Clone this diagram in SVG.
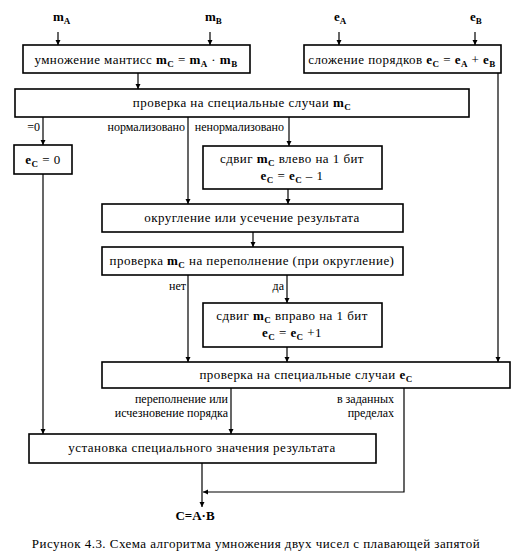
<svg xmlns="http://www.w3.org/2000/svg" width="512" height="556" viewBox="0 0 512 556">
<defs>
<marker id="ar" markerWidth="6" markerHeight="8" refX="5" refY="4" orient="auto" markerUnits="userSpaceOnUse">
<path d="M0,1.5 L5,4 L0,6.5 Z" fill="#000"/>
</marker>
</defs>
<style>
text{font-family:"Liberation Serif","Times New Roman",serif;fill:#000}
.t{font-size:13px;text-anchor:middle;letter-spacing:0.45px}
.l{font-size:12px;text-anchor:end}
.b{font-weight:bold}
.s{font-size:9px;font-weight:bold}
.n{fill:#fff;stroke:#000;stroke-width:1.6}
.c path{fill:none;stroke:#000;stroke-width:1.2}
</style>
<rect width="512" height="556" fill="#fff"/>
<g class="c" id="connectors">
<path d="M58,32 V45" marker-end="url(#ar)"/>
<path d="M210,32 V45" marker-end="url(#ar)"/>
<path d="M339,32 V45" marker-end="url(#ar)"/>
<path d="M475,32 V45" marker-end="url(#ar)"/>
<path d="M138,73 V89" marker-end="url(#ar)"/>
<path d="M498,73 V362" marker-end="url(#ar)"/>
<path d="M43,117 V145" marker-end="url(#ar)"/>
<path d="M188,117 V204" marker-end="url(#ar)"/>
<path d="M289,117 V146" marker-end="url(#ar)"/>
<path d="M288,189 V204" marker-end="url(#ar)"/>
<path d="M253,232 V247" marker-end="url(#ar)"/>
<path d="M188,275 V362" marker-end="url(#ar)"/>
<path d="M287,275 V303" marker-end="url(#ar)"/>
<path d="M287,347 V362" marker-end="url(#ar)"/>
<path d="M43,174 V434" marker-end="url(#ar)"/>
<path d="M231,388 V434" marker-end="url(#ar)"/>
<path d="M404,388 V492 H203" marker-end="url(#ar)"/>
<path d="M202,463 V507" marker-end="url(#ar)"/>
</g>
<g id="inputs">
<text x="53" y="21" class="b" font-size="13">m<tspan class="s" dy="3">A</tspan></text>
<text x="205" y="21" class="b" font-size="13">m<tspan class="s" dy="3">B</tspan></text>
<text x="334" y="21" class="b" font-size="13">e<tspan class="s" dy="3">A</tspan></text>
<text x="470" y="21" class="b" font-size="13">e<tspan class="s" dy="3">B</tspan></text>
</g>
<g id="mult">
<rect class="n" x="23" y="45" width="227" height="28"/>
<text x="136" y="64" class="t">умножение мантисс <tspan class="b">m</tspan><tspan class="s" dy="3">C</tspan><tspan dy="-3"> = </tspan><tspan class="b">m</tspan><tspan class="s" dy="3">A</tspan><tspan dy="-3"> · </tspan><tspan class="b">m</tspan><tspan class="s" dy="3">B</tspan></text>
</g>
<g id="add">
<rect class="n" x="304" y="45" width="197" height="28"/>
<text x="402" y="64" class="t">сложение порядков <tspan class="b">e</tspan><tspan class="s" dy="3">C</tspan><tspan dy="-3"> = </tspan><tspan class="b">e</tspan><tspan class="s" dy="3">A</tspan><tspan dy="-3"> + </tspan><tspan class="b">e</tspan><tspan class="s" dy="3">B</tspan></text>
</g>
<g id="check1">
<rect class="n" x="15" y="89" width="454" height="28"/>
<text x="242" y="107" class="t">проверка на специальные случаи <tspan class="b">m</tspan><tspan class="s" dy="3">C</tspan></text>
</g>
<g id="labels1">
<text x="40" y="131" class="l">=0</text>
<text x="185" y="131" class="l">нормализовано</text>
<text x="284" y="131" class="l">ненормализовано</text>
</g>
<g id="ezero">
<rect class="n" x="14" y="145" width="58" height="29"/>
<text x="43" y="164" class="t"><tspan class="b">e</tspan><tspan class="s" dy="3">C</tspan><tspan dy="-3"> = 0</tspan></text>
</g>
<g id="shiftleft">
<rect class="n" x="203" y="146" width="179" height="43"/>
<text x="292" y="163" class="t">сдвиг <tspan class="b">m</tspan><tspan class="s" dy="3">C</tspan><tspan dy="-3"> влево на 1 бит</tspan></text>
<text x="292" y="180" class="t"><tspan class="b">e</tspan><tspan class="s" dy="3">C</tspan><tspan dy="-3"> = </tspan><tspan class="b">e</tspan><tspan class="s" dy="3">C</tspan><tspan dy="-3"> – 1</tspan></text>
</g>
<g id="round">
<rect class="n" x="102" y="204" width="301" height="28"/>
<text x="252" y="222" class="t">округление или усечение результата</text>
</g>
<g id="overflow">
<rect class="n" x="102" y="247" width="301" height="28"/>
<text x="252" y="265" class="t">проверка <tspan class="b">m</tspan><tspan class="s" dy="3">C</tspan><tspan dy="-3"> на переполнение (при округление)</tspan></text>
</g>
<g id="labels2">
<text x="186" y="290" class="l">нет</text>
<text x="284" y="290" class="l">да</text>
</g>
<g id="shiftright">
<rect class="n" x="203" y="303" width="179" height="44"/>
<text x="292" y="320" class="t">сдвиг <tspan class="b">m</tspan><tspan class="s" dy="3">C</tspan><tspan dy="-3"> вправо на 1 бит</tspan></text>
<text x="292" y="337" class="t"><tspan class="b">e</tspan><tspan class="s" dy="3">C</tspan><tspan dy="-3"> = </tspan><tspan class="b">e</tspan><tspan class="s" dy="3">C</tspan><tspan dy="-3"> +1</tspan></text>
</g>
<g id="check2">
<rect class="n" x="102" y="362" width="408" height="26"/>
<text x="306" y="379" class="t">проверка на специальные случаи <tspan class="b">e</tspan><tspan class="s" dy="3">C</tspan></text>
</g>
<g id="labels3">
<text x="228" y="403" class="l">переполнение или</text>
<text x="228" y="417" class="l">исчезновение порядка</text>
<text x="394" y="403" class="l">в заданных</text>
<text x="394" y="417" class="l">пределах</text>
</g>
<g id="special">
<rect class="n" x="29" y="434" width="347" height="29"/>
<text x="202" y="452" class="t">установка специального значения результата</text>
</g>
<g id="result">
<text x="195" y="520" class="b" font-size="13" text-anchor="middle">C=A·B</text>
</g>
<text x="256" y="548" font-size="13" text-anchor="middle" letter-spacing="0.45">Рисунок 4.3. Схема алгоритма умножения двух чисел с плавающей запятой</text>
</svg>
